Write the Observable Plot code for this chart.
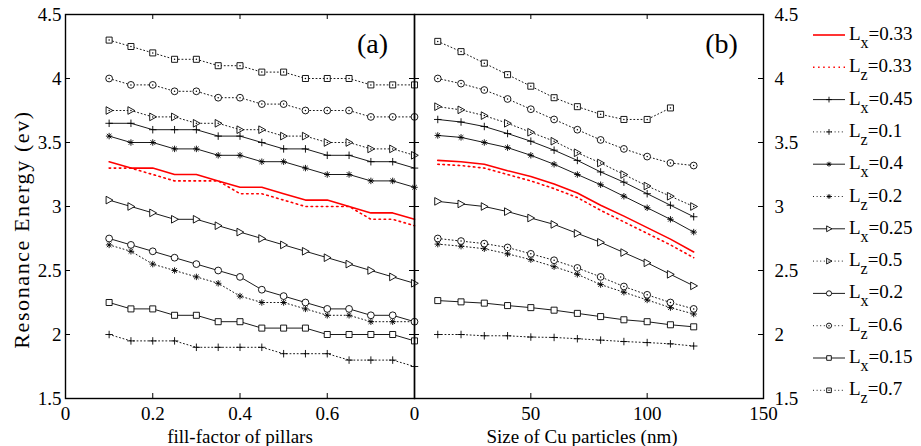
<!DOCTYPE html>
<html><head><meta charset="utf-8">
<script src="https://cdn.jsdelivr.net/npm/d3@7"></script>
<script src="https://cdn.jsdelivr.net/npm/@observablehq/plot@0.6"></script>
<style>
body{margin:0;background:#fff;}
#wrap{position:relative;width:921px;height:446px;font-family:"Liberation Serif","Times New Roman",serif;background:#fff;}
#wrap svg{position:absolute;left:0;top:0;overflow:visible;}
</style></head><body><div id="wrap"></div>
<script>
// ---- data ----
const fillFactor = [0.1,0.15,0.2,0.25,0.3,0.35,0.4,0.45,0.5,0.55,0.6,0.65,0.7,0.75,0.8];
const sizeNm = [10,20,30,40,50,60,70,80,90,100,110,120];

// panel (a): resonance energy vs fill-factor
const aLx033 = [3.35,3.3,3.3,3.25,3.25,3.2,3.15,3.15,3.1,3.05,3.05,3.0,2.95,2.95,2.9];
const aLz033 = [3.3,3.3,3.25,3.2,3.2,3.2,3.1,3.1,3.05,3.0,3.0,3.0,2.9,2.9,2.85];
const aLx045 = [3.65,3.65,3.6,3.6,3.6,3.55,3.55,3.5,3.45,3.45,3.4,3.4,3.35,3.35,3.3];
const aLz01  = [2.0,1.95,1.95,1.95,1.9,1.9,1.9,1.9,1.85,1.85,1.85,1.8,1.8,1.8,1.75];
const aLx04  = [3.55,3.5,3.5,3.45,3.45,3.4,3.4,3.35,3.35,3.3,3.25,3.25,3.2,3.2,3.15];
const aLz02  = [2.7,2.65,2.55,2.5,2.45,2.4,2.3,2.25,2.25,2.2,2.15,2.15,2.1,2.1,2.1];
const aLx025 = [3.05,3.0,2.95,2.9,2.9,2.85,2.8,2.75,2.7,2.65,2.6,2.55,2.5,2.45,2.4];
const aLz05  = [3.75,3.75,3.7,3.7,3.65,3.65,3.6,3.6,3.55,3.55,3.5,3.5,3.45,3.45,3.4];
const aLx02  = [2.75,2.7,2.65,2.6,2.55,2.5,2.45,2.35,2.3,2.25,2.2,2.2,2.15,2.15,2.1];
const aLz06  = [4.0,3.95,3.95,3.9,3.9,3.85,3.85,3.8,3.8,3.75,3.75,3.75,3.7,3.7,3.7];
const aLx015 = [2.25,2.2,2.2,2.15,2.15,2.1,2.1,2.05,2.05,2.05,2.0,2.0,2.0,2.0,1.95];
const aLz07  = [4.3,4.25,4.2,4.15,4.15,4.1,4.1,4.05,4.05,4.0,4.0,4.0,3.95,3.95,3.95];

// panel (b): resonance energy vs Cu particle size
const bLx033 = [3.36,3.35,3.33,3.28,3.235,3.175,3.105,3.01,2.925,2.835,2.745,2.645];
const bLz033 = [3.33,3.32,3.3,3.25,3.2,3.14,3.07,2.97,2.88,2.79,2.7,2.6];
const bLx045 = [3.68,3.66,3.625,3.57,3.51,3.44,3.36,3.27,3.19,3.1,3.01,2.92];
const bLz01  = [2.0,2.0,1.99,1.99,1.98,1.977,1.967,1.956,1.945,1.937,1.927,1.91];
const bLx04  = [3.555,3.54,3.5,3.46,3.4,3.33,3.25,3.17,3.08,2.99,2.9,2.8];
const bLz02  = [2.706,2.69,2.67,2.63,2.585,2.53,2.47,2.39,2.33,2.27,2.21,2.16];
const bLx025 = [3.04,3.02,3.0,2.96,2.91,2.86,2.79,2.72,2.64,2.56,2.47,2.38];
const bLz05  = [3.78,3.755,3.71,3.65,3.58,3.51,3.42,3.34,3.25,3.16,3.08,3.0];
const bLx02  = [2.75,2.73,2.71,2.68,2.63,2.58,2.52,2.45,2.375,2.31,2.25,2.2];
const bLz06  = [4.0,3.96,3.91,3.84,3.76,3.68,3.6,3.52,3.45,3.39,3.34,3.32];
const bLx015 = [2.265,2.255,2.245,2.226,2.21,2.19,2.165,2.14,2.115,2.1,2.076,2.06];
const bLz07  = [4.29,4.21,4.12,4.03,3.94,3.85,3.78,3.72,3.68,3.68,3.77];

const legendSubs = ["x","z","x","z","x","z","x","z","x","z","x","z"];
const legendValues = ["0.33","0.33","0.45","0.1","0.4","0.2","0.25","0.5","0.2","0.6","0.15","0.7"];
const yTicks = [1.5,2,2.5,3,3.5,4,4.5];
const xTicksA = [0,0.2,0.4,0.6];
const xTicksB = [0,50,100,150];
const yTitle = "Resonance Energy (ev)";

// ---- symbols ----
const triRight = {draw(ctx, size){ const r = Math.sqrt(size/Math.PI)*1.12; ctx.moveTo(r,0); ctx.lineTo(-r*0.8,-r); ctx.lineTo(-r*0.8,r); ctx.closePath(); }};
const plusSym = {draw(ctx, size){ const r = Math.sqrt(size/Math.PI)*1.1; ctx.moveTo(-r,0); ctx.lineTo(r,0); ctx.moveTo(0,-r); ctx.lineTo(0,r); }};
const starSym = {draw(ctx, size){ const r = Math.sqrt(size/Math.PI)*0.95; for (let k=0;k<4;k++){ const a=k*Math.PI/4; ctx.moveTo(-r*Math.cos(a),-r*Math.sin(a)); ctx.lineTo(r*Math.cos(a),r*Math.sin(a)); } }};

const series = [
  {a:aLx033, b:bLx033, red:true,  dotted:false, sym:null},
  {a:aLz033, b:bLz033, red:true,  dotted:true,  sym:null},
  {a:aLx045, b:bLx045, dotted:false, sym:plusSym, open:true},
  {a:aLz01,  b:bLz01,  dotted:true,  sym:plusSym, open:true},
  {a:aLx04,  b:bLx04,  dotted:false, sym:starSym, open:true},
  {a:aLz02,  b:bLz02,  dotted:true,  sym:starSym, open:true},
  {a:aLx025, b:bLx025, dotted:false, sym:triRight},
  {a:aLz05,  b:bLz05,  dotted:true,  sym:triRight},
  {a:aLx02,  b:bLx02,  dotted:false, dottedB:true, sym:d3.symbolCircle},
  {a:aLz06,  b:bLz06,  dotted:true,  sym:d3.symbolCircle},
  {a:aLx015, b:bLx015, dotted:false, sym:d3.symbolSquare},
  {a:aLz07,  b:bLz07,  dotted:true,  sym:d3.symbolSquare}
];

const FONT = '"Liberation Serif", "Times New Roman", serif';
const W = 921, Hh = 446, mTop = 14, mBottom = 48;
const innerH = Hh - mTop - mBottom;
const RED = "#ff0000";
const dashRed = "1.5,3.6", dashBlack = "1,2.6";

function seriesMarks(xs, key) {
  const marks = [];
  for (const s of series) {
    const rows = s[key].map((v,i)=>({x: xs[i], y: v}));
    const dotted = (key === "b" && s.dottedB) ? true : s.dotted;
    marks.push(Plot.line(rows, {x:"x", y:"y",
      stroke: s.red ? RED : "black",
      strokeWidth: s.red ? 1.6 : 0.9,
      strokeDasharray: dotted ? (s.red ? dashRed : dashBlack) : undefined}));
    if (s.sym) {
      marks.push(Plot.dot(rows, {x:"x", y:"y", symbol: s.sym, r: 3.4, stroke:"black", strokeWidth: 0.9, fill: s.open ? "none" : "white"}));
      if (dotted && !s.open) marks.push(Plot.dot(rows, {x:"x", y:"y", r: 0.75, fill:"black", stroke:"none"}));
    }
  }
  return marks;
}

function panel({xs, key, xDomain, xTicks, left, right, yAnchor, xLabel, xLabelDx, tag}) {
  const innerW = W - left - right;
  return Plot.plot({
    width: W, height: Hh,
    marginLeft: left, marginRight: right, marginTop: mTop, marginBottom: mBottom,
    x: {domain: xDomain},
    y: {domain: [1.5, 4.5]},
    style: {background: "transparent", fontFamily: FONT, fontSize: "19px", color: "black", overflow: "visible"},
    marks: [
      ...seriesMarks(xs, key),
      Plot.tickX(xTicks, {x: d=>d, insetTop: innerH - 5, stroke: "black"}),
      Plot.tickX(xTicks, {x: d=>d, insetBottom: innerH - 5, stroke: "black"}),
      Plot.tickY(yTicks, {y: d=>d, insetRight: innerW - 5, stroke: "black"}),
      Plot.tickY(yTicks, {y: d=>d, insetLeft: innerW - 5, stroke: "black"}),
      Plot.frame({stroke: "black", strokeWidth: 1.4}),
      Plot.axisX({ticks: xTicks, tickSize: 0, tickPadding: 8, tickFormat: d=>String(d), label: null, fontSize: 19, fontFamily: FONT}),
      Plot.axisY({anchor: yAnchor, ticks: yTicks, tickSize: 0, tickPadding: yAnchor === "left" ? 4 : 11, tickFormat: d=>String(d), label: null, fontSize: 19, fontFamily: FONT}),
      Plot.text([xLabel], {text: d=>d, frameAnchor: "bottom", textAnchor: "middle", lineAnchor: "middle", dx: xLabelDx, dy: 38, fontSize: 19, fontFamily: FONT}),
      Plot.text([tag], {text: d=>d, frameAnchor: "top-right", textAnchor: "middle", lineAnchor: "middle", dx: -42, dy: 30, fontSize: 28, fontFamily: FONT}),
      ...(key === "a" ? [Plot.text([yTitle], {text: d=>d, frameAnchor: "left", textAnchor: "middle", lineAnchor: "middle", dx: -44, dy: 23, rotate: -90, fontSize: 22, fontFamily: FONT})] : [])
    ]
  });
}

const wrap = document.getElementById("wrap");
const svgA = panel({xs: fillFactor, key: "a", xDomain: [0, 0.8], xTicks: xTicksA, left: 65, right: W - 414, yAnchor: "left", xLabel: "fill-factor of pillars", xLabelDx: 0, tag: "(a)"});
d3.select(svgA).selectAll("text").filter(function(){ return this.textContent === yTitle; }).style("letter-spacing", "1.6px");
wrap.appendChild(svgA);
wrap.appendChild(panel({xs: sizeNm, key: "b", xDomain: [0, 150], xTicks: xTicksB, left: 414, right: W - 763, yAnchor: "right", xLabel: "Size of Cu particles (nm)", xLabelDx: -7, tag: "(b)"}));

// ---- legend ----
const leg = d3.create("svg").attr("width", W).attr("height", Hh)
  .attr("font-family", FONT);
series.forEach((s, i) => {
  const g = leg.append("g").attr("transform", `translate(0,${35 + 32.3 * i})`);
  const dotted = s.dotted;
  g.append("line").attr("x1", 813).attr("x2", 845).attr("y1", 0).attr("y2", 0)
    .attr("stroke", s.red ? RED : "black").attr("stroke-width", s.red ? 1.6 : 0.9)
    .attr("stroke-dasharray", dotted ? (s.red ? dashRed : dashBlack) : null);
  if (s.sym) {
    g.append("path").attr("transform", "translate(829,0)")
      .attr("d", d3.symbol().type(s.sym).size(Math.PI * 2.6 * 2.6)())
      .attr("fill", s.open ? "none" : "white").attr("stroke", "black").attr("stroke-width", 0.9);
    if (dotted && !s.open) g.append("circle").attr("cx", 829).attr("cy", 0).attr("r", 0.7).attr("fill", "black");
  }
  const t = g.append("text").attr("x", 849).attr("y", 5).attr("font-size", 19).attr("fill", "black").attr("font-family", FONT);
  t.append("tspan").text("L");
  t.append("tspan").attr("dy", 8).attr("font-size", 16).text(legendSubs[i]);
  t.append("tspan").attr("dy", -8).text("=" + legendValues[i]);
});
wrap.appendChild(leg.node());
</script></body></html>
